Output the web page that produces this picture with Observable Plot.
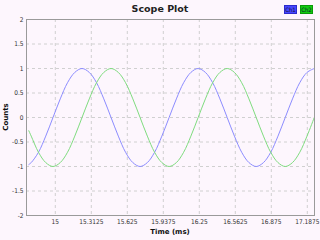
<!DOCTYPE html>
<html><head><meta charset="utf-8">
<script src="https://cdn.jsdelivr.net/npm/d3@7"></script>
<script src="https://cdn.jsdelivr.net/npm/@observablehq/plot@0.6"></script>
<style>
html,body{margin:0;padding:0;background:#fdf6fd;}
#wrap{position:relative;width:320px;height:240px;background:#fdf6fd;font-family:"DejaVu Sans",sans-serif;overflow:hidden;}
#title{position:absolute;left:0;width:320px;top:3px;text-align:center;font-weight:bold;font-size:9.5px;color:#222;}
.leg{position:absolute;top:5px;height:9px;font-size:6px;line-height:8px;text-align:center;color:#113;box-sizing:border-box;font-family:"DejaVu Sans Condensed","Liberation Sans",sans-serif;}
#xl{position:absolute;left:26px;width:288px;top:228px;text-align:center;font-weight:bold;font-size:7px;color:#111;}
#yl{position:absolute;left:6px;top:117px;transform:translate(-50%,-50%) rotate(-90deg);font-weight:bold;font-size:7px;color:#111;white-space:nowrap;}
svg{position:absolute;left:0;top:0;}
</style></head>
<body><div id="wrap"></div>
<script>
const time = [14.77,14.791,14.854,14.917,14.98,15.043,15.106,15.169,15.232,15.295,15.358,15.421,15.484,15.547,15.61,15.673,15.736,15.799,15.862,15.925,15.988,16.051,16.114,16.177,16.24,16.303,16.366,16.429,16.492,16.555,16.618,16.681,16.744,16.807,16.87,16.933,16.996,17.059,17.122,17.185,17.248];
const ch1 = [-0.96,-0.92,-0.71,-0.38,0,0.38,0.71,0.92,1,0.92,0.71,0.38,0,-0.38,-0.71,-0.92,-1,-0.92,-0.71,-0.38,0,0.38,0.71,0.92,1,0.92,0.71,0.38,0,-0.38,-0.71,-0.92,-1,-0.92,-0.71,-0.38,0,0.38,0.71,0.92,1];
const ch2 = [-0.27,-0.38,-0.71,-0.92,-1,-0.92,-0.71,-0.38,0,0.38,0.71,0.92,1,0.92,0.71,0.38,0,-0.38,-0.71,-0.92,-1,-0.92,-0.71,-0.38,0,0.38,0.71,0.92,1,0.92,0.71,0.38,0,-0.38,-0.71,-0.92,-1,-0.92,-0.71,-0.38,0];
const xTicks = [15,15.3125,15.625,15.9375,16.25,16.5625,16.875,17.1875];
const yTicks = [-2,-1.5,-1,-0.5,0,0.5,1,1.5,2];
const seriesNames = ["Ch1","Ch2"];

const d1 = time.map((t,i)=>({t, v:ch1[i]}));
const d2 = time.map((t,i)=>({t, v:ch2[i]}));

const plot = Plot.plot({
  width:320, height:240,
  marginLeft:26, marginRight:6, marginTop:19, marginBottom:25,
  style:{background:"transparent", fontFamily:"'DejaVu Sans Condensed', 'Liberation Sans', sans-serif", fontSize:"6.5px", color:"#333"},
  x:{domain:[14.75,17.25], ticks:xTicks, tickFormat:d=>String(d), tickSize:0, tickPadding:4, label:null},
  y:{domain:[-2,2], ticks:yTicks, tickFormat:d=>String(d), tickSize:0, tickPadding:3, label:null},
  marks:[
    Plot.gridX(xTicks,{stroke:"#d0d0d0", strokeOpacity:1, strokeDasharray:"3,3"}),
    Plot.gridY(yTicks,{stroke:"#d0d0d0", strokeOpacity:1, strokeDasharray:"3,3"}),
    Plot.line(d1,{x:"t", y:"v", stroke:"#8c8cff", strokeWidth:1, curve:"catmull-rom"}),
    Plot.line(d2,{x:"t", y:"v", stroke:"#7fdc7f", strokeWidth:1, curve:"catmull-rom"}),
    Plot.frame({stroke:"#9a9a9a"})
  ]
});
const wrap = document.getElementById("wrap");
wrap.appendChild(plot);
const title = document.createElement("div"); title.id="title"; title.textContent="Scope Plot"; wrap.appendChild(title);
const xl = document.createElement("div"); xl.id="xl"; xl.textContent="Time (ms)"; wrap.appendChild(xl);
const yl = document.createElement("div"); yl.id="yl"; yl.textContent="Counts"; wrap.appendChild(yl);
const legColors = [["#4646ff","#2a2acc",284],["#11cc11","#0a990a",300]];
seriesNames.forEach((n,i)=>{
  const d = document.createElement("div"); d.className="leg"; d.textContent=n;
  d.style.left=legColors[i][2]+"px"; d.style.width="13px";
  d.style.background=legColors[i][0]; d.style.border="1px solid "+legColors[i][1];
  wrap.appendChild(d);
});
</script></body></html>
